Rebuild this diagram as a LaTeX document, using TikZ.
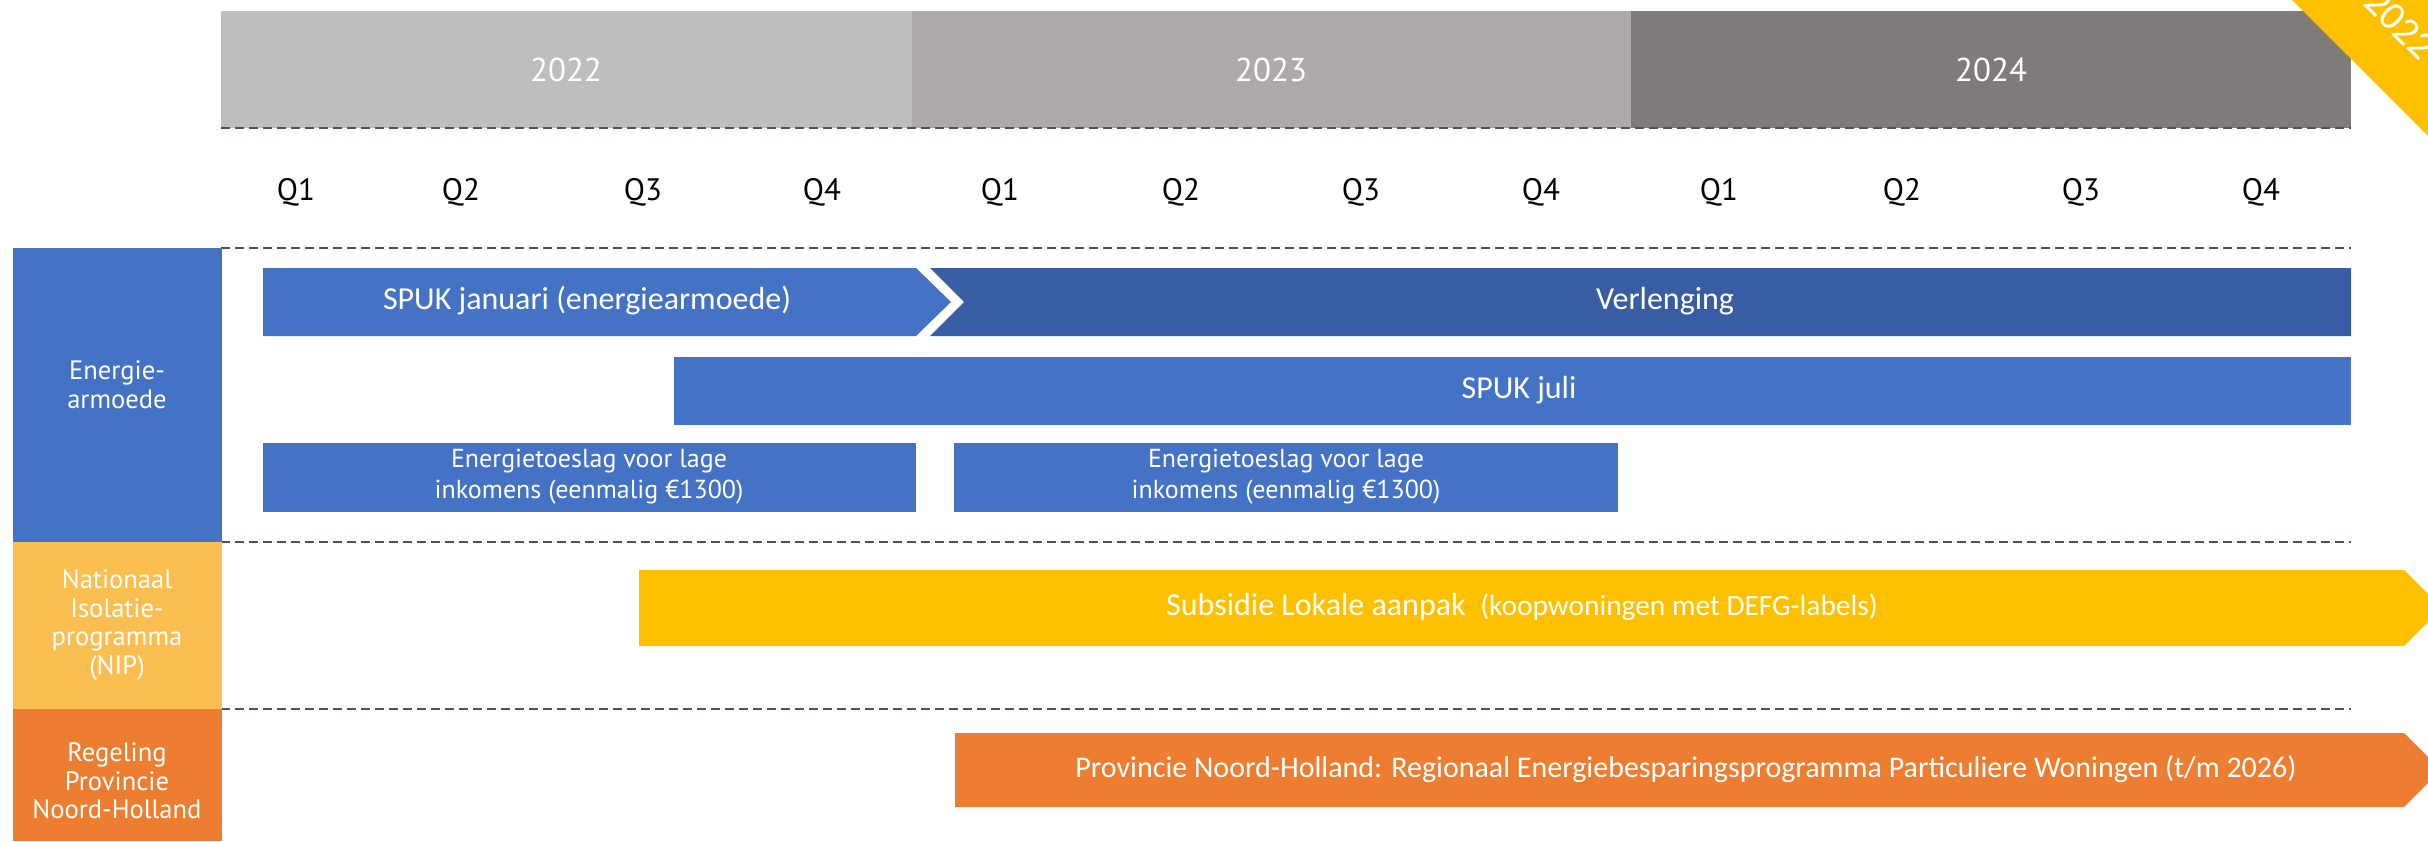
\documentclass[tikz,border=0pt]{standalone}
\usepackage{fontspec}
\setmainfont{Carlito}
\newfontfamily\labelfont{PT Sans}
\definecolor{yearA}{HTML}{BFBEBF}
\definecolor{yearB}{HTML}{AEAAAA}
\definecolor{yearC}{HTML}{7F7B7A}
\definecolor{barblue}{HTML}{4472C4}
\definecolor{bardark}{HTML}{385DA3}
\definecolor{baryellow}{HTML}{FFC000}
\definecolor{nipyellow}{HTML}{FBBE50}
\definecolor{barorange}{HTML}{ED7D31}
\definecolor{gridline}{HTML}{44546A}
\tikzset{
  grid dash/.style={gridline,line width=1pt,dash pattern=on 4.5pt off 2.5pt},
  bartext/.style={text=white,inner sep=0pt,font=\fontsize{16}{19}\selectfont},
  toeslag/.style={text=white,inner sep=0pt,align=center,font=\labelfont\fontsize{13}{15.5}\selectfont},
  sidetext/.style={text=white,inner sep=0pt,align=center,font=\labelfont\fontsize{13.3}{14.3}\selectfont},
  quarter/.style={inner sep=0pt,font=\labelfont\fontsize{15.5}{18}\selectfont},
  yeartext/.style={text=white,inner sep=0pt,font=\labelfont\fontsize{16.5}{20}\selectfont}
}
\begin{document}
\begin{tikzpicture}[x=0.5pt,y=-0.5pt]
\useasboundingbox (0,0) rectangle (2428,841);
\clip (0,0) rectangle (2428,841);
% years
\fill[yearA] (221,11) rectangle (912,128);
\fill[yearB] (912,11) rectangle (1631,128);
\fill[yearC] (1631,11) rectangle (2351,128);
\node[yeartext] (y2022) at (566,70) {2022};
\node[yeartext] (y2023) at (1271,70) {2023};
\node[yeartext] (y2024) at (1991,70) {2024};
% quarters
\foreach \qx/\ql [count=\i] in {296/Q1,461/Q2,643/Q3,822/Q4,1000/Q1,1181/Q2,1361/Q3,1541/Q4,1719/Q1,1902/Q2,2081/Q3,2261/Q4}
  \node[quarter] (q\i) at (\qx,192) {\ql};
% dashed rows
\foreach \gy in {128,248,542,709}
  \draw[grid dash] (221,\gy) -- (2351,\gy);
% row headers
\fill[barblue] (13,248) rectangle (222,542);
\fill[nipyellow] (13,542) rectangle (222,709);
\fill[barorange] (13,709) rectangle (222,841);
\node[sidetext] (energie) at (117,385) {Energie-\\armoede};
\node[sidetext] (nip) at (117,625) {Nationaal\\Isolatie-\\programma\\(NIP)};
\node[sidetext] (regeling) at (117,781) {Regeling\\Provincie\\Noord-Holland};
% energiearmoede
\fill[barblue] (263,268) -- (916,268) -- (951,302) -- (916,336) -- (263,336) -- cycle;
\fill[bardark] (930,268) -- (2351,268) -- (2351,336) -- (930,336) -- (964,302) -- cycle;
\node[bartext] (spukjan) at (587,301) {SPUK januari (energiearmoede)};
\node[bartext] (verlenging) at (1665,301) {Verlenging};
\fill[barblue] (674,357) rectangle (2351,425);
\node[bartext] (spukjuli) at (1519,390) {SPUK juli};
\fill[barblue] (263,443) rectangle (916,512);
\fill[barblue] (954,443) rectangle (1618,512);
\node[toeslag] (toeslagA) at (589,477) {Energietoeslag voor lage\\inkomens (eenmalig €1300)};
\node[toeslag] (toeslagB) at (1286,477) {Energietoeslag voor lage\\inkomens (eenmalig €1300)};
% NIP
\fill[baryellow] (639,570) -- (2404,570) -- (2442,608) -- (2404,646) -- (639,646) -- cycle;
\node[bartext] (lokaal) at (1522,607) {Subsidie Lokale aanpak\ \ {\fontsize{14.7}{17}\selectfont(koopwoningen met DEFG-labels)}};
% provincie
\fill[barorange] (955,733) -- (2404,733) -- (2441,770) -- (2404,807) -- (955,807) -- cycle;
\node[bartext,font=\fontsize{15}{18}\selectfont] (provincie) at (1686,769) {Provincie Noord-Holland: Regionaal Energiebesparingsprogramma Particuliere Woningen (t/m 2026)};
% corner ribbon
\fill[baryellow] (2292,0) -- (2440,0) -- (2440,148) -- cycle;
\node[text=white,inner sep=0pt,rotate=-45,font=\fontsize{20}{22}\selectfont] (ribbon) at (2400,24) {2022};
\end{tikzpicture}
\end{document}
